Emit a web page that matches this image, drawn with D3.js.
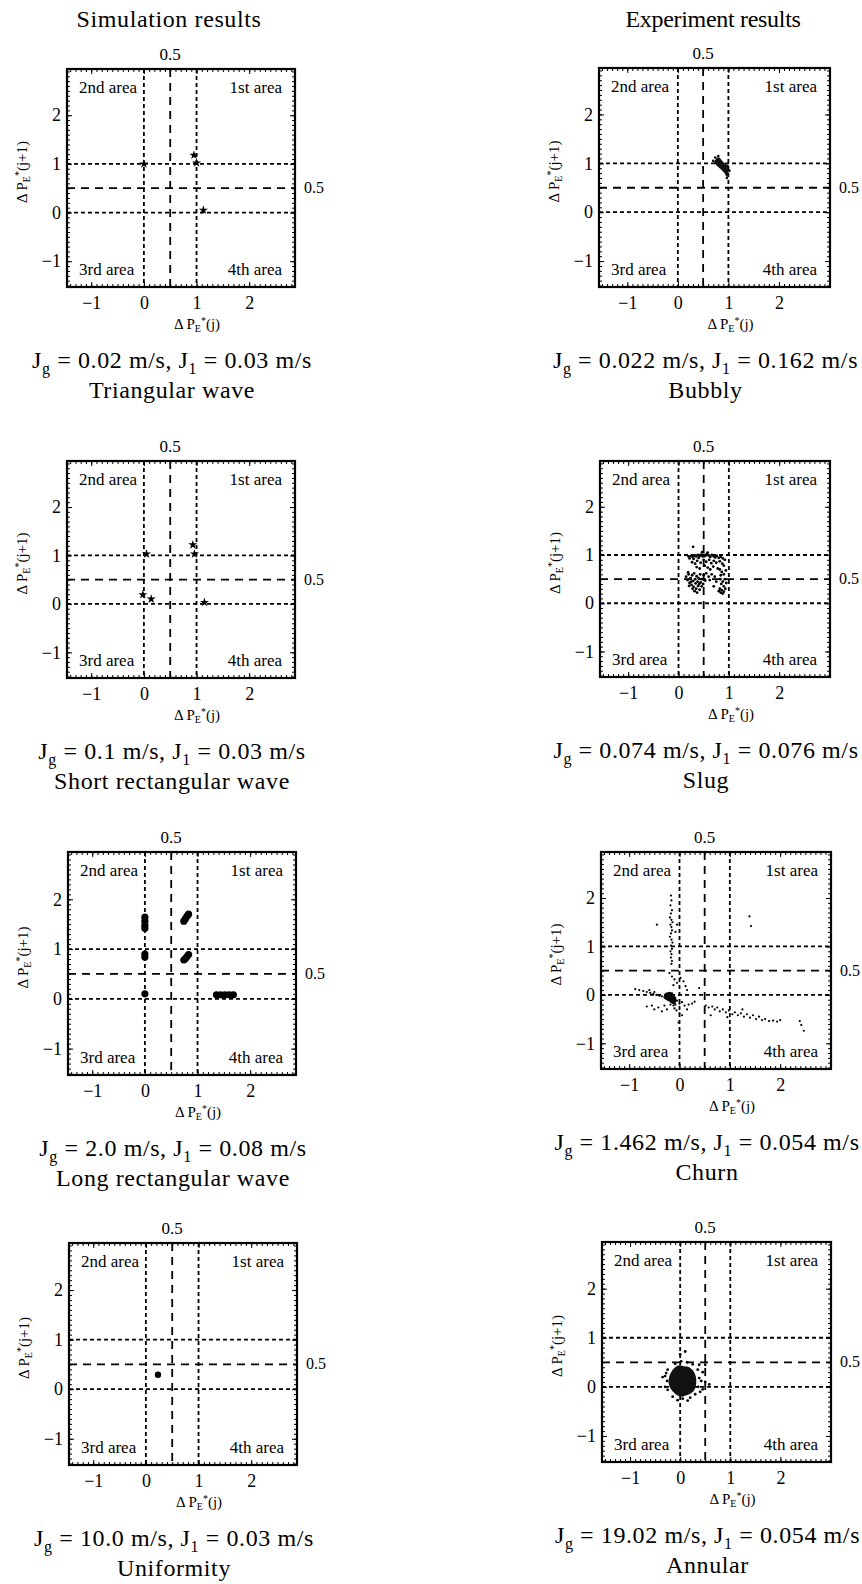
<!DOCTYPE html>
<html>
<head>
<meta charset="utf-8">
<script src="https://cdn.jsdelivr.net/npm/d3@7"></script>
<style>
  body { margin: 0; background: #fff; }
  svg { display: block; }
  text { font-family: "Liberation Serif", "DejaVu Serif", "Noto Serif", serif; }
</style>
</head>
<body>
<div id="vis"></div>
<script>
// Column headers, ticks and reference values
const COLUMN_TITLES = ["Simulation results", "Experiment results"];
const X_TICKS = [-1, 0, 1, 2];
const Y_TICKS = [-1, 0, 1, 2];
const DOTTED_REFS = [0, 1];
const DASHED_REF = 0.5;
const AREA_LABELS = ["1st area", "2nd area", "3rd area", "4th area"];
const SERIF = "'Liberation Serif', 'DejaVu Serif', serif";

// Flow conditions (J_g, J_1) and pattern names
const JG = ["0.02", "0.1", "2.0", "10.0", "0.022", "0.074", "1.462", "19.02"];
const JL = ["0.03", "0.03", "0.08", "0.03", "0.162", "0.076", "0.054", "0.054"];
const PATTERNS = ["Triangular wave", "Short rectangular wave", "Long rectangular wave", "Uniformity",
                  "Bubbly", "Slug", "Churn", "Annular"];

// Simulation points [ΔP*(j), ΔP*(j+1)]
const TRIANGULAR = [[0.0, 1.0], [0.95, 1.18], [1.0, 1.02], [1.13, 0.05]];
const SHORT_RECT = [[0.05, 1.03], [0.93, 1.22], [0.96, 1.03], [-0.02, 0.19], [0.14, 0.1], [1.15, 0.03]];
const LONG_RECT = [[0, 1.64], [0, 1.56], [0, 1.48], [0, 1.42], [0, 0.9], [0, 0.84], [0, 0.1],
                   [0.74, 1.56], [0.77, 1.61], [0.8, 1.66], [0.83, 1.7],
                   [0.74, 0.78], [0.77, 0.81], [0.8, 0.85], [0.83, 0.89],
                   [1.36, 0.08], [1.44, 0.08], [1.52, 0.08], [1.6, 0.08], [1.68, 0.08]];
const UNIFORM = [[0.23, 0.29]];

// Experiment points
const BUBBLY_CORE = [[0.72, 1.02], [0.76, 1.1], [0.82, 1.12], [0.88, 1.05], [0.95, 0.98], [1.0, 0.9],
                     [1.0, 0.78], [0.97, 0.72], [0.92, 0.8], [0.85, 0.88], [0.77, 0.95]];
const BUBBLY = [[0.7, 1.05], [0.74, 1.12], [0.8, 1.15], [0.98, 0.95], [1.02, 0.85], [0.97, 0.7]];
const SLUG = [[0.2, 0.97], [0.25, 0.98], [0.28, 0.96], [0.32, 0.99], [0.35, 0.97], [0.38, 1.0], [0.42, 0.98],
              [0.45, 1.01], [0.48, 0.97], [0.5, 1.0], [0.53, 0.98], [0.56, 1.02], [0.6, 0.99], [0.63, 0.96],
              [0.66, 1.0], [0.7, 0.97], [0.73, 0.95], [0.76, 0.98], [0.8, 0.94], [0.84, 0.96], [0.88, 0.93],
              [0.92, 0.9], [0.22, 0.93], [0.3, 0.92], [0.4, 0.94], [0.29, 1.17], [0.47, 1.06], [0.58, 1.05],
              [0.27, 0.85], [0.33, 0.82], [0.37, 0.88], [0.44, 0.84], [0.5, 0.9], [0.55, 0.86], [0.61, 0.9],
              [0.65, 0.83], [0.7, 0.88], [0.75, 0.84], [0.82, 0.87], [0.87, 0.82], [0.9, 0.78], [0.36, 0.75],
              [0.42, 0.72], [0.52, 0.78], [0.58, 0.74], [0.63, 0.7], [0.69, 0.76], [0.78, 0.72],
              [0.15, 0.55], [0.18, 0.48], [0.2, 0.6], [0.22, 0.42], [0.24, 0.52], [0.26, 0.38], [0.27, 0.58],
              [0.29, 0.46], [0.3, 0.34], [0.31, 0.62], [0.33, 0.5], [0.34, 0.41], [0.35, 0.3], [0.36, 0.56],
              [0.38, 0.45], [0.39, 0.36], [0.4, 0.52], [0.42, 0.28], [0.43, 0.6], [0.44, 0.43], [0.46, 0.35],
              [0.47, 0.5], [0.49, 0.4], [0.5, 0.58], [0.21, 0.36], [0.25, 0.45], [0.28, 0.3], [0.32, 0.25],
              [0.37, 0.22], [0.41, 0.4], [0.19, 0.64], [0.53, 0.47], [0.55, 0.62], [0.6, 0.55], [0.62, 0.48],
              [0.66, 0.6], [0.82, 0.7], [0.86, 0.65], [0.84, 0.58], [0.9, 0.6], [0.83, 0.5], [0.88, 0.45],
              [0.92, 0.5], [0.85, 0.4], [0.9, 0.35], [0.82, 0.3], [0.86, 0.27], [0.9, 0.24], [0.84, 0.22],
              [0.88, 0.2], [0.93, 0.3], [0.8, 0.25], [0.95, 0.42], [0.94, 0.68], [0.72, 0.55], [0.75, 0.45],
              [0.7, 0.35]];
const CHURN = [[-0.17, 2.05], [-0.16, 1.95], [-0.18, 1.85], [-0.15, 1.75], [-0.17, 1.68], [-0.19, 1.6],
               [-0.16, 1.55], [-0.14, 1.5], [-0.18, 1.45], [-0.16, 1.4], [-0.15, 1.33], [-0.17, 1.27],
               [-0.19, 1.2], [-0.16, 1.14], [-0.14, 1.08], [-0.17, 1.02], [-0.15, 0.95], [-0.18, 0.9],
               [-0.16, 0.84], [-0.17, 0.77], [-0.15, 0.7], [-0.16, 0.64], [-0.08, 1.3], [-0.05, 1.45],
               [-0.45, 1.45], [1.39, 1.62], [1.42, 1.42],
               [-0.2, 0.45], [-0.15, 0.38], [-0.1, 0.32], [-0.05, 0.25], [0.02, 0.35], [0.08, 0.28],
               [0.12, 0.18], [-0.12, 0.2], [0.15, 0.1], [0.39, 0.14],
               [-0.88, 0.12], [-0.8, 0.1], [-0.72, 0.08], [-0.65, 0.06], [-0.58, 0.04], [-0.52, 0.02],
               [-0.46, 0.0], [-0.4, -0.02], [-0.35, -0.03], [-0.3, -0.05], [-0.6, 0.1], [-0.5, 0.06],
               [-0.28, 0.0], [-0.25, -0.03], [-0.22, 0.02], [-0.2, -0.05], [-0.18, -0.08], [-0.15, -0.02],
               [-0.12, -0.06], [-0.1, -0.1], [-0.22, -0.1], [-0.17, -0.14], [-0.13, -0.16], [-0.08, -0.2],
               [-0.05, -0.12], [-0.2, 0.04], [-0.26, -0.07], [-0.15, 0.03], [-0.12, -0.22], [-0.18, -0.2],
               [-0.1, -0.28], [-0.06, -0.32], [0.0, -0.18], [0.05, -0.15], [0.1, -0.22], [0.18, -0.2],
               [0.25, -0.18], [0.3, -0.14],
               [-0.65, -0.24], [-0.55, -0.22], [-0.5, -0.3], [-0.42, -0.26], [-0.35, -0.34], [-0.3, -0.22],
               [-0.25, -0.3], [0.0, -0.38], [0.05, -0.42], [-0.02, -0.57], [0.15, -0.3],
               [0.52, -0.22], [0.58, -0.26], [0.65, -0.24], [0.7, -0.3], [0.75, -0.26], [0.8, -0.34],
               [0.86, -0.3], [0.92, -0.36], [0.98, -0.32], [1.05, -0.4], [1.1, -0.36], [1.16, -0.42],
               [1.22, -0.38], [1.28, -0.45], [1.34, -0.4], [1.4, -0.47], [1.46, -0.42], [1.52, -0.5],
               [1.58, -0.45], [1.64, -0.52], [1.7, -0.5], [1.78, -0.54], [1.86, -0.53], [1.94, -0.55],
               [2.0, -0.52], [0.62, -0.42], [0.95, -0.46], [1.25, -0.3], [2.39, -0.54], [2.42, -0.62],
               [2.47, -0.74]];
// dense core of the churn cloud near the origin
const CHURN_CORE = [[-0.3, 0.02], [-0.2, 0.06], [-0.1, 0.0], [-0.06, -0.1], [-0.1, -0.2], [-0.2, -0.14],
                    [-0.3, -0.08]];
const ANNULAR_CORE = [[-0.12, 0.38], [-0.03, 0.44], [0.08, 0.42], [0.18, 0.4], [0.26, 0.33], [0.31, 0.22],
                      [0.32, 0.08], [0.29, -0.05], [0.22, -0.13], [0.1, -0.18], [0.0, -0.2], [-0.1, -0.14],
                      [-0.19, -0.04], [-0.23, 0.08], [-0.22, 0.2], [-0.18, 0.3]];
const ANNULAR = [[0.0, 0.66], [0.1, 0.72], [-0.25, 0.35], [-0.35, 0.2], [0.45, 0.3], [0.5, 0.1], [0.58, 0.05],
                 [0.45, -0.05], [0.15, -0.28], [-0.05, -0.27], [0.38, 0.45], [0.5, 0.45], [-0.3, 0.0],
                 [-0.28, 0.28], [-0.26, 0.12], [-0.25, -0.06], [0.35, 0.35], [0.38, 0.18], [0.36, 0.0],
                 [0.3, -0.15], [0.2, -0.22], [0.05, -0.24], [-0.15, -0.2], [0.02, 0.52], [0.14, 0.5],
                 [-0.1, 0.47], [0.25, 0.46], [0.42, 0.12], [0.4, -0.1], [-0.3, 0.22]];

// Layout: frame boxes [left, right, top, bottom] for each panel
const BOXES = [[67, 295, 69, 287], [67, 295, 461, 678], [68, 296, 852, 1075], [69, 297, 1243, 1465],
               [599, 830, 68, 287], [600, 830, 461, 677], [601, 831, 852, 1069], [602, 831, 1242, 1462]];
const X_DOMAINS = [[-1.46, 2.87], [-1.56, 3.01]];
const Y_DOMAIN = [-1.53, 2.95];

const SVG = d3.select("#vis")
              .append("svg")
                .attr("width", 862)
                .attr("height", 1584)
                .attr("font-family", SERIF);

// Column headers
SVG.selectAll(".header")
   .data(COLUMN_TITLES)
   .enter()
   .append("text")
     .attr("x", (d, i) => i === 0 ? 169 : 713)
     .attr("y", 27)
     .attr("text-anchor", "middle")
     .attr("font-size", "24px")
     .attr("letter-spacing", (d, i) => i === 0 ? "0.6px" : "-0.3px")
     .text((d) => d);

// Writes ΔP_E*(...) style axis label into a text element
function axisLabel(txt, arg) {
  txt.append("tspan").text("Δ P");
  txt.append("tspan").attr("font-size", "10px").attr("dy", 3).text("E");
  txt.append("tspan").attr("font-size", "10px").attr("dy", -8).text("*");
  txt.append("tspan").attr("dy", 5).text(arg);
}

function drawPanel(i) {
  const [L, R, T, B] = BOXES[i];
  const X_SCALE = d3.scaleLinear().domain(X_DOMAINS[i < 4 ? 0 : 1]).range([L, R]);
  const Y_SCALE = d3.scaleLinear().domain(Y_DOMAIN).range([B, T]);
  const g = SVG.append("g");

  // minor ticks on all four sides, pointing inward
  const MINOR_X = X_SCALE.ticks(45);
  const MINOR_Y = Y_SCALE.ticks(45);
  g.append("g").attr("transform", "translate(0," + B + ")")
   .call(d3.axisBottom(X_SCALE).tickValues(MINOR_X).tickSize(-3).tickFormat(""));
  g.append("g").attr("transform", "translate(0," + T + ")")
   .call(d3.axisTop(X_SCALE).tickValues(MINOR_X).tickSize(-3).tickFormat(""));
  g.append("g").attr("transform", "translate(" + L + ",0)")
   .call(d3.axisLeft(Y_SCALE).tickValues(MINOR_Y).tickSize(-3).tickFormat(""));
  g.append("g").attr("transform", "translate(" + R + ",0)")
   .call(d3.axisRight(Y_SCALE).tickValues(MINOR_Y).tickSize(-3).tickFormat(""));

  // major ticks with labels
  const fmt = (d) => d < 0 ? "\u2212" + Math.abs(d) : String(d);
  g.append("g").attr("transform", "translate(0," + B + ")")
   .call(d3.axisBottom(X_SCALE).tickValues(X_TICKS).tickSize(-5).tickPadding(9).tickFormat(fmt));
  g.append("g").attr("transform", "translate(0," + T + ")")
   .call(d3.axisTop(X_SCALE).tickValues(X_TICKS).tickSize(-5).tickFormat(""));
  g.append("g").attr("transform", "translate(" + L + ",0)")
   .call(d3.axisLeft(Y_SCALE).tickValues(Y_TICKS).tickSize(-5).tickPadding(6).tickFormat(fmt));
  g.append("g").attr("transform", "translate(" + R + ",0)")
   .call(d3.axisRight(Y_SCALE).tickValues(Y_TICKS).tickSize(-5).tickFormat(""));

  g.selectAll(".domain").remove();
  g.selectAll("g").attr("font-family", SERIF);
  g.selectAll(".tick line").attr("stroke", "#000");
  g.selectAll(".tick text")
   .attr("font-size", "18px")
   .attr("fill", "#000");

  // frame
  g.append("rect")
   .attr("x", L).attr("y", T)
   .attr("width", R - L).attr("height", B - T)
   .attr("fill", "none")
   .attr("stroke", "#000")
   .attr("stroke-width", 2.2);

  // reference lines
  DOTTED_REFS.forEach((v) => {
    g.append("line").attr("x1", X_SCALE(v)).attr("x2", X_SCALE(v)).attr("y1", T).attr("y2", B)
     .attr("class", "dot-ref");
    g.append("line").attr("x1", L).attr("x2", R).attr("y1", Y_SCALE(v)).attr("y2", Y_SCALE(v))
     .attr("class", "dot-ref");
  });
  g.selectAll(".dot-ref")
   .attr("stroke", "#000").attr("stroke-width", 1.8).attr("stroke-dasharray", "4,3");
  g.append("line").attr("x1", X_SCALE(DASHED_REF)).attr("x2", X_SCALE(DASHED_REF)).attr("y1", T).attr("y2", B)
   .attr("class", "dash-ref");
  g.append("line").attr("x1", L).attr("x2", R).attr("y1", Y_SCALE(DASHED_REF)).attr("y2", Y_SCALE(DASHED_REF))
   .attr("class", "dash-ref");
  g.selectAll(".dash-ref")
   .attr("stroke", "#000").attr("stroke-width", 1.8).attr("stroke-dasharray", "8,6");

  // 0.5 labels above and right
  g.append("text")
   .attr("x", X_SCALE(DASHED_REF)).attr("y", T - 9)
   .attr("text-anchor", "middle").attr("font-size", "17px")
   .text(String(DASHED_REF));
  g.append("text")
   .attr("x", R + 9).attr("y", Y_SCALE(DASHED_REF) + 5)
   .attr("font-size", "16px")
   .text(String(DASHED_REF));

  // area labels
  const AREA_POS = [[R - 13, T + 24, "end"], [L + 12, T + 24, "start"],
                    [L + 12, B - 12, "start"], [R - 13, B - 12, "end"]];
  AREA_LABELS.forEach((lab, k) => {
    g.append("text")
     .attr("x", AREA_POS[k][0]).attr("y", AREA_POS[k][1])
     .attr("text-anchor", AREA_POS[k][2])
     .attr("font-size", "17px")
     .text(lab);
  });

  // axis titles
  const xl = g.append("text")
              .attr("x", (L + R) / 2 + 16).attr("y", B + 42)
              .attr("text-anchor", "middle").attr("font-size", "15px");
  axisLabel(xl, "(j)");
  const yl = g.append("text")
              .attr("transform", "translate(" + (L - 40) + "," + ((T + B) / 2 - 6) + ") rotate(-90)")
              .attr("text-anchor", "middle").attr("font-size", "15px");
  axisLabel(yl, "(j+1)");

  // caption lines
  const cx = (L + R) / 2 - 9;
  const cap = g.append("text")
               .attr("x", cx).attr("y", B + 81)
               .attr("text-anchor", "middle").attr("font-size", "24px")
               .attr("letter-spacing", "0.6px");
  cap.append("tspan").text("J");
  cap.append("tspan").attr("font-size", "16px").attr("dy", 6).text("g");
  cap.append("tspan").attr("dy", -6).text(" = " + JG[i] + " m/s, J");
  cap.append("tspan").attr("font-size", "16px").attr("dy", 6).text("1");
  cap.append("tspan").attr("dy", -6).text(" = " + JL[i] + " m/s");
  g.append("text")
   .attr("x", cx).attr("y", B + 111)
   .attr("text-anchor", "middle").attr("font-size", "24px")
   .attr("letter-spacing", "0.6px")
   .text(PATTERNS[i]);

  return {g: g, X: X_SCALE, Y: Y_SCALE};
}

// Marker helpers
function stars(p, data) {
  p.g.selectAll(null).data(data).enter()
     .append("path")
       .attr("d", d3.symbol().type(d3.symbolStar).size(26))
       .attr("transform", (d) => "translate(" + p.X(d[0]) + "," + p.Y(d[1]) + ")")
       .attr("fill", "#000");
}
function dots(p, data, r) {
  p.g.selectAll(null).data(data).enter()
     .append("circle")
       .attr("cx", (d) => p.X(d[0]))
       .attr("cy", (d) => p.Y(d[1]))
       .attr("r", r)
       .attr("fill", "#000");
}
function blob(p, data) {
  p.g.append("path")
     .datum(data)
     .attr("d", d3.line().x((d) => p.X(d[0])).y((d) => p.Y(d[1])).curve(d3.curveCardinalClosed))
     .attr("fill", "#111");
}

const P = d3.range(8).map(drawPanel);

stars(P[0], TRIANGULAR);
stars(P[1], SHORT_RECT);
dots(P[2], LONG_RECT, 3.6);
dots(P[3], UNIFORM, 3.2);
blob(P[4], BUBBLY_CORE);
dots(P[4], BUBBLY, 1.3);
dots(P[5], SLUG, 1.4);
blob(P[6], CHURN_CORE);
dots(P[6], CHURN, 1.1);
blob(P[7], ANNULAR_CORE);
dots(P[7], ANNULAR, 1.4);
</script>
</body>
</html>
